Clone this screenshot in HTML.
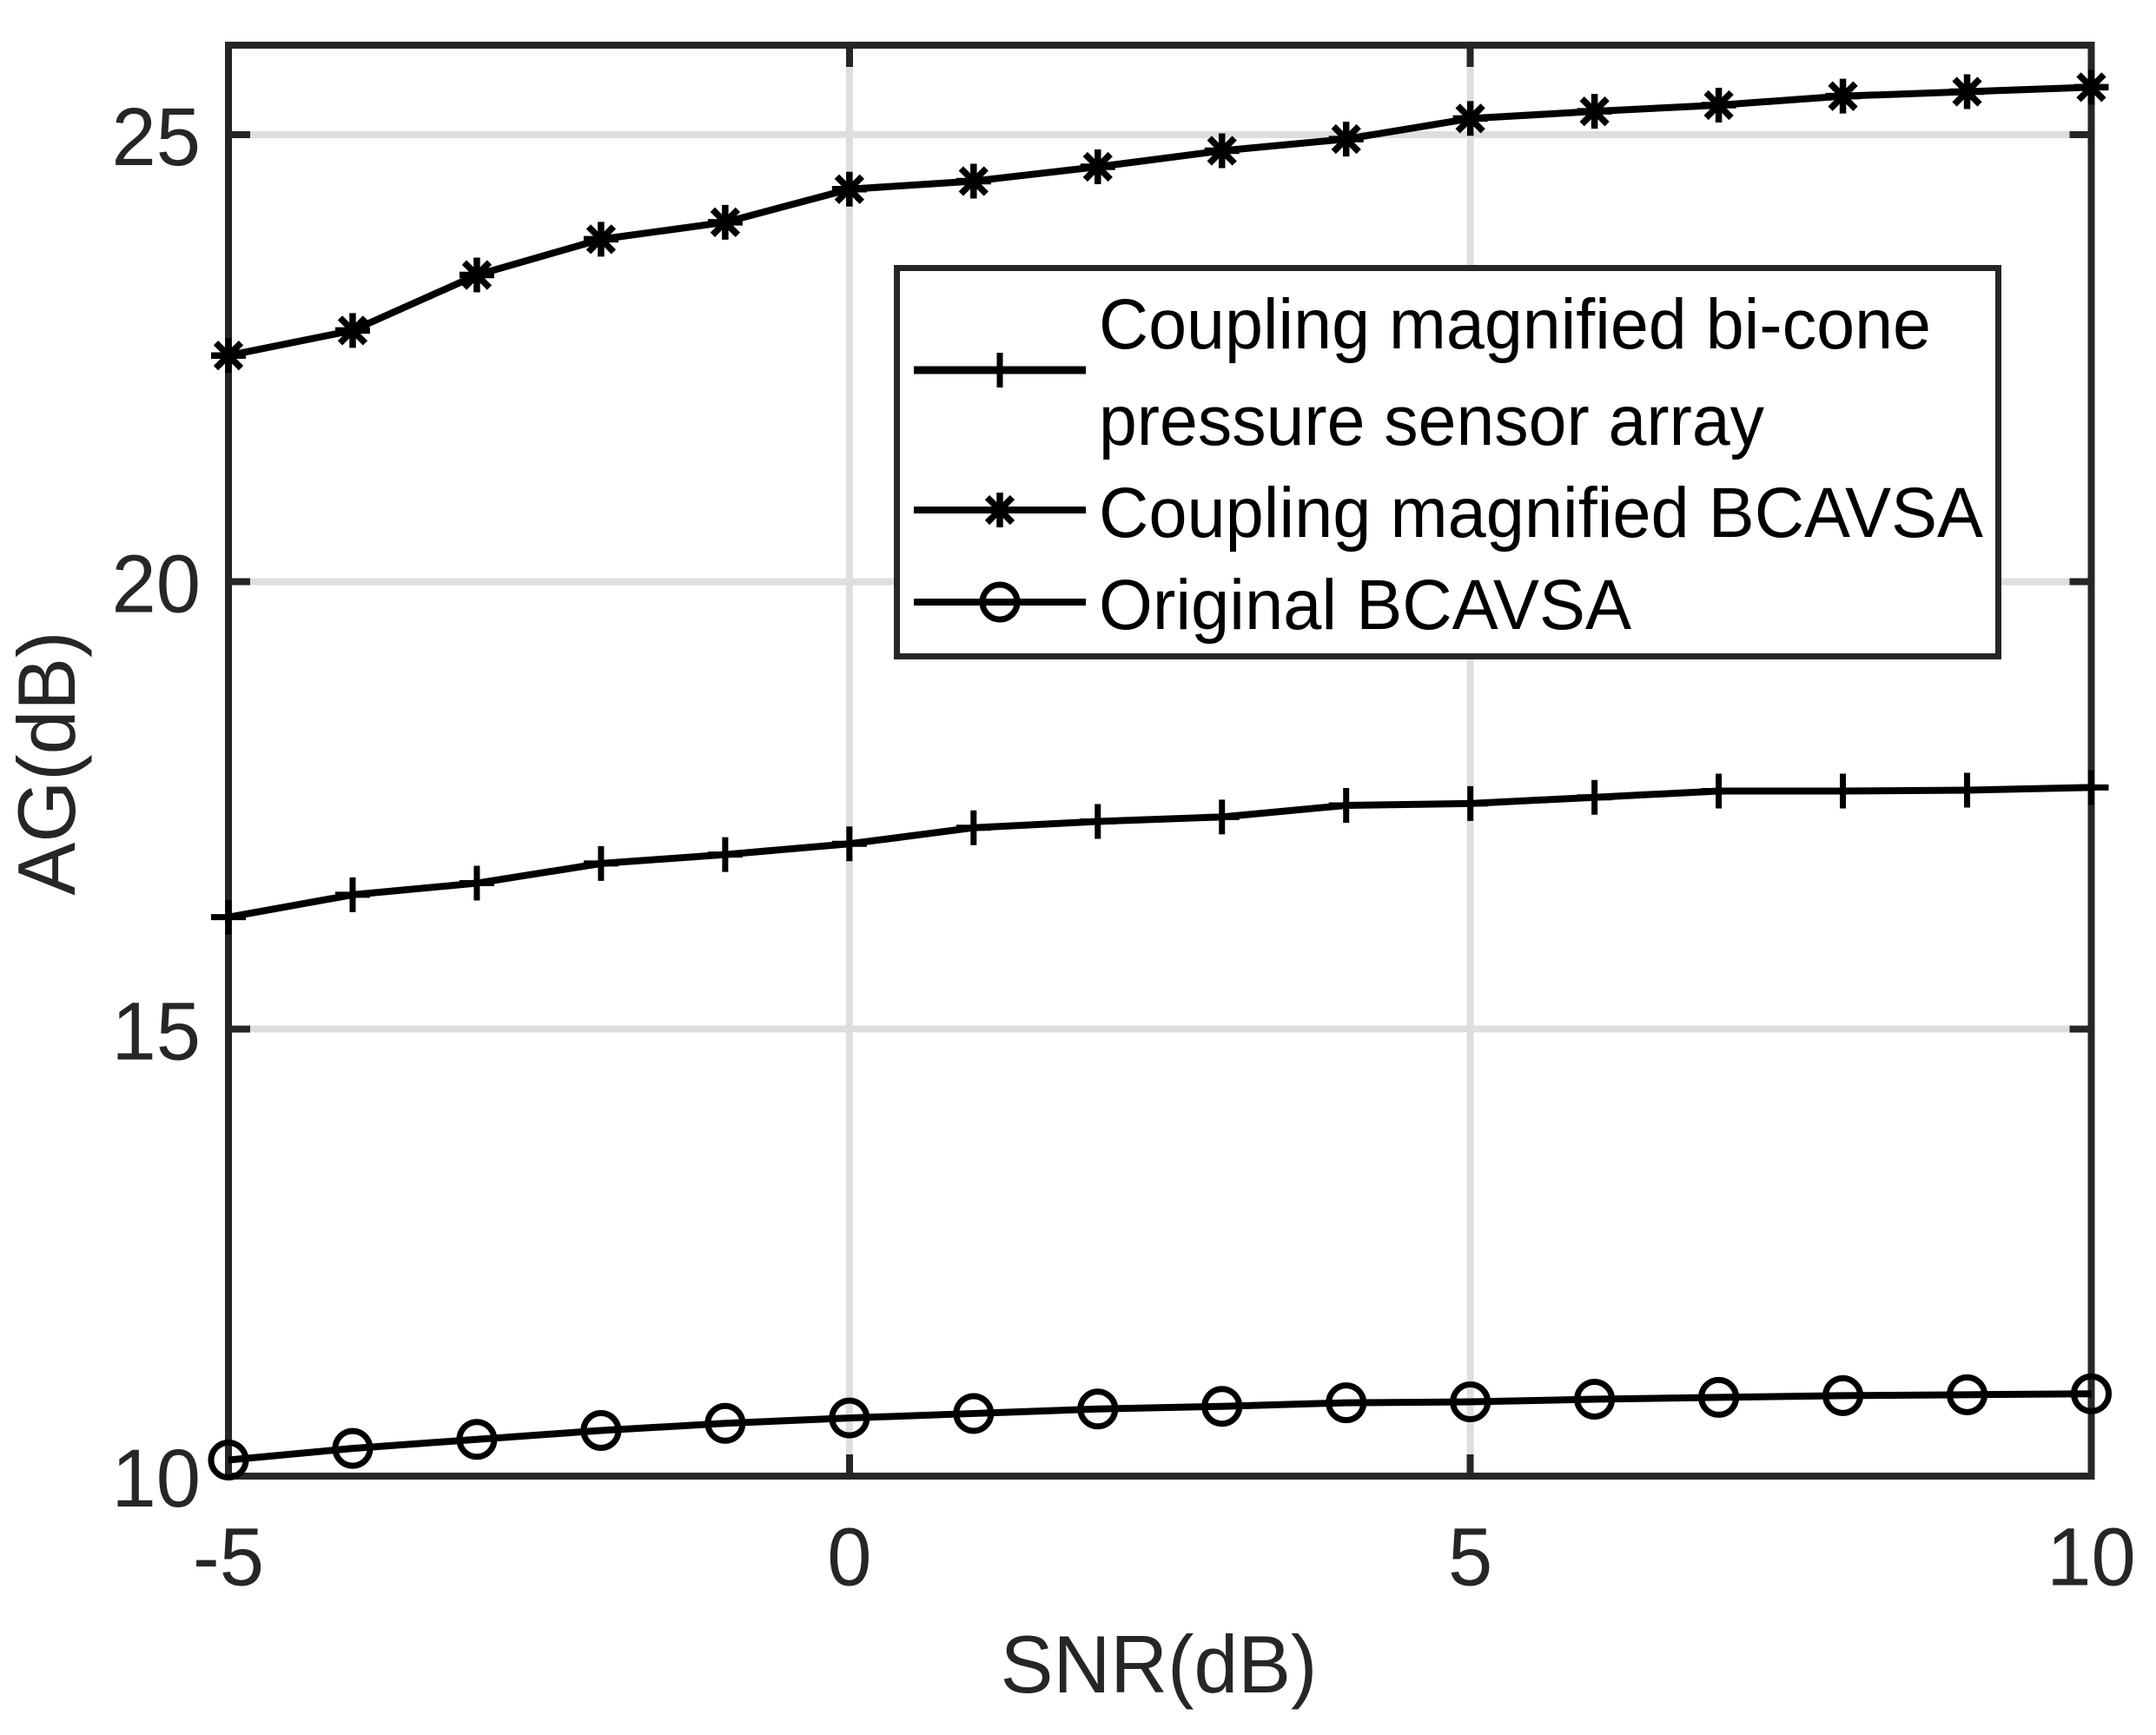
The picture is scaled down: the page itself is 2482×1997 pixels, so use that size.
<!DOCTYPE html>
<html lang="en">
<head>
<meta charset="utf-8">
<title>AG versus SNR</title>
<style>
html,body{margin:0;padding:0;background:#fff;width:2482px;height:1997px;overflow:hidden}
svg{display:block}
text{font-family:"Liberation Sans",Arial,sans-serif}
</style>
</head>
<body>
<svg id="chart" xmlns="http://www.w3.org/2000/svg" width="2482" height="1997" viewBox="0 0 2482 1997">
  <rect x="0" y="0" width="2482" height="1997" fill="#ffffff"/>
  <g id="grid"></g>
  <g id="ticks" shape-rendering="crispEdges"></g>
  <rect x="263" y="52" width="2144.5" height="1647" fill="none" stroke="#262626" stroke-width="8" shape-rendering="crispEdges"/>
  <g id="tick-labels"></g>
  <text transform="translate(1334 1948) scale(0.97 1)" font-size="94" fill="#262626" text-anchor="middle">SNR(dB)</text>
  <text transform="translate(86 878.5) rotate(-90) scale(0.97 1)" font-size="94" fill="#262626" text-anchor="middle">AG(dB)</text>
  <g id="series"></g>
  <g id="legend">
    <rect x="1032.5" y="308.5" width="1268" height="447" fill="#ffffff" stroke="#262626" stroke-width="7" shape-rendering="crispEdges"/>
    <text x="1265" y="401" font-size="82" fill="#000" textLength="958" lengthAdjust="spacingAndGlyphs">Coupling magnified bi-cone</text>
    <text x="1265" y="512" font-size="82" fill="#000" textLength="766" lengthAdjust="spacingAndGlyphs">pressure sensor array</text>
    <text x="1265" y="618" font-size="82" fill="#000" textLength="1018" lengthAdjust="spacingAndGlyphs">Coupling magnified BCAVSA</text>
    <text x="1265" y="724" font-size="82" fill="#000" textLength="613" lengthAdjust="spacingAndGlyphs">Original BCAVSA</text>
    <g id="legend-keys"></g>
  </g>
</svg>
<script>
var snr = [-5,-4,-3,-2,-1,0,1,2,3,4,5,6,7,8,9,10];
var biconeArray = [16.25,16.50,16.63,16.85,16.95,17.07,17.25,17.32,17.37,17.50,17.52,17.59,17.66,17.66,17.67,17.70];
var magnifiedBcavsa = [22.53,22.81,23.43,23.83,24.02,24.39,24.48,24.64,24.82,24.95,25.18,25.26,25.33,25.43,25.48,25.53];
var originalBcavsa = [10.18,10.31,10.41,10.51,10.59,10.65,10.70,10.75,10.78,10.82,10.83,10.86,10.88,10.90,10.91,10.92];
var xTicks = [-5,0,5,10];
var yTicks = [10,15,20,25];
var xDomain = [-5,10];
var yDomain = [10,26];

var NS = 'http://www.w3.org/2000/svg';
var LEFT = 263, RIGHT = 2407.5, TOP = 52, BOTTOM = 1699;
var TICK_LEN = 25, INK = '#262626', GRID = '#dedede';

function xScale(v){ return LEFT + (v - xDomain[0]) / (xDomain[1] - xDomain[0]) * (RIGHT - LEFT); }
function yScale(v){ return BOTTOM - (v - yDomain[0]) / (yDomain[1] - yDomain[0]) * (BOTTOM - TOP); }

function make(tag, parent, attrs){
  var el = document.createElementNS(NS, tag);
  for (var k in attrs) { el.setAttribute(k, attrs[k]); }
  parent.appendChild(el);
  return el;
}
function segment(parent, x1, y1, x2, y2, color, width){
  return make('line', parent, {x1:x1, y1:y1, x2:x2, y2:y2, stroke:color, 'stroke-width':width, 'stroke-linecap':'butt'});
}

var gridG = document.getElementById('grid');
var ticksG = document.getElementById('ticks');
var labelsG = document.getElementById('tick-labels');
var seriesG = document.getElementById('series');
var keysG = document.getElementById('legend-keys');

xTicks.forEach(function(t){
  var x = xScale(t);
  if (t !== xDomain[0] && t !== xDomain[1]) {
    var g = segment(gridG, x, TOP, x, BOTTOM, GRID, 8);
    
    
    var t1 = segment(ticksG, x, TOP, x, TOP + TICK_LEN, INK, 8);
    
    
    var t2 = segment(ticksG, x, BOTTOM, x, BOTTOM - TICK_LEN, INK, 8);
    
    
  }
  var lab = make('text', labelsG, {transform:'translate(' + x + ' 1824.5) scale(0.97 1)', 'font-size':95, fill:INK, 'text-anchor':'middle'});
  lab.textContent = String(t);
  
  
});

yTicks.forEach(function(t){
  var y = yScale(t);
  if (t !== yDomain[0]) {
    var g = segment(gridG, LEFT, y, RIGHT, y, GRID, 8);
    
    
    var t1 = segment(ticksG, LEFT, y, LEFT + TICK_LEN, y, INK, 8);
    
    
    var t2 = segment(ticksG, RIGHT, y, RIGHT - TICK_LEN, y, INK, 8);
    
    
  }
  var lab = make('text', labelsG, {transform:'translate(231 ' + (y + 35) + ') scale(0.97 1)', 'font-size':95, fill:INK, 'text-anchor':'end'});
  lab.textContent = String(t);
  
  
});

function drawPlus(parent, x, y){
  var g = make('g', parent, {});
  segment(g, x - 20, y, x + 20, y, '#000', 7);
  segment(g, x, y - 20, x, y + 20, '#000', 7);
  return g;
}
function drawStar(parent, x, y){
  var g = make('g', parent, {});
  var d = 14.5;
  segment(g, x - 20, y, x + 20, y, '#000', 7.5);
  segment(g, x, y - 20, x, y + 20, '#000', 7.5);
  segment(g, x - d, y - d, x + d, y + d, '#000', 7.5);
  segment(g, x - d, y + d, x + d, y - d, '#000', 7.5);
  return g;
}
function drawCircle(parent, x, y){
  return make('circle', parent, {cx:x, cy:y, r:20, fill:'none', stroke:'#000', 'stroke-width':7});
}

function drawSeries(values, marker, name){
  var g = make('g', seriesG, {});
  
  
  var pts = values.map(function(v, i){ return xScale(snr[i]).toFixed(2) + ',' + yScale(v).toFixed(2); }).join(' ');
  var line = make('polyline', g, {points:pts, fill:'none', stroke:'#000', 'stroke-width':8, 'stroke-linejoin':'round'});
  
  
  values.forEach(function(v, i){
    var m = marker(g, xScale(snr[i]), yScale(v));
    
    
  });
}

drawSeries(biconeArray, drawPlus, 'series-bicone-array');
drawSeries(magnifiedBcavsa, drawStar, 'series-magnified-bcavsa');
drawSeries(originalBcavsa, drawCircle, 'series-original-bcavsa');

function legendKey(y, width, marker, name){
  var g = make('g', keysG, {});
  
  
  segment(g, 1052, y, 1250, y, '#000', width);
  marker(g, 1151, y);
}
legendKey(426, 9, drawPlus, 'legend-key-bicone-array');
legendKey(587, 8, drawStar, 'legend-key-magnified-bcavsa');
legendKey(693, 8, drawCircle, 'legend-key-original-bcavsa');
</script>
</body>
</html>
